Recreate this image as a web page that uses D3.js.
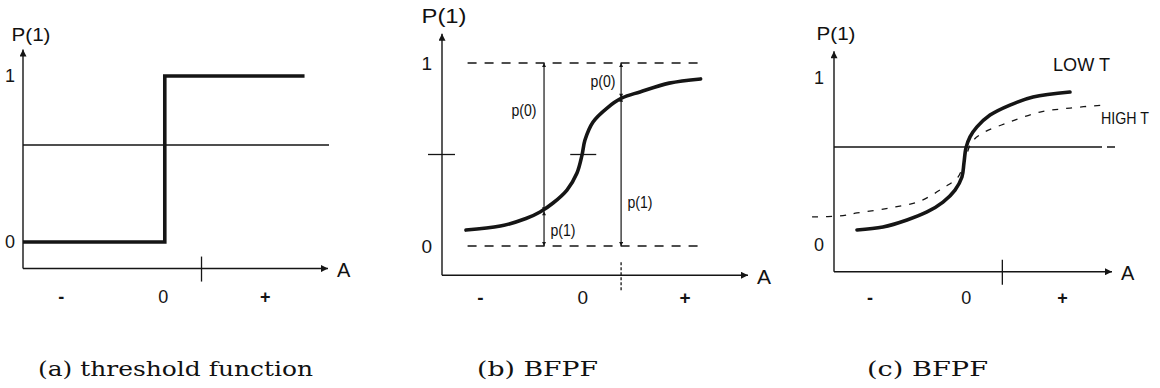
<!DOCTYPE html>
<html>
<head>
<meta charset="utf-8">
<script src="https://cdn.jsdelivr.net/npm/d3@7"></script>
<style>
  html, body { margin: 0; padding: 0; background: #fff; }
  svg { display: block; }
  .lbl { font-family: "Liberation Sans", Arial, sans-serif; fill: #111; }
  .cap { font-family: "DejaVu Serif", serif; fill: #111; }
</style>
</head>
<body>
<svg id="chart" width="1160" height="388"></svg>
<script>
// tick labels
const xTickA = [-1, 0, 1];
const xTickLabels = ['-', '0', '+'];
const yTickP = [0, 1];
const yTickLabels = ['0', '1'];

// (a) threshold function
const stepA = [-1.37, 0.02, 0.02, 1.39];
const stepP = [0, 0, 1, 1];
const thresholdP = 0.584;

// (b) BFPF curve
const bfpfA = [-1.136, -0.80, -0.55, -0.412, -0.285, -0.149, -0.051, -0.002, 0.027, 0.106, 0.243, 0.389, 0.565, 0.85, 1.157];
const bfpfP = [0.087, 0.109, 0.15, 0.186, 0.235, 0.306, 0.399, 0.497, 0.579, 0.678, 0.754, 0.809, 0.842, 0.89, 0.913];
const arrowA = [-0.373, 0.38];
const arrowP = [0.19, 0.81];
const markA = 0.01;   // centre mark on curve
const midP = 0.5;

// (c) BFPF, two temperatures
const lowTA = [-1.131, -0.861, -0.611, -0.403, -0.237, -0.112, -0.040, -0.019, 0.002, 0.044, 0.116, 0.252, 0.459, 0.699, 1.083];
const lowTP = [0.090, 0.108, 0.150, 0.198, 0.257, 0.329, 0.407, 0.491, 0.581, 0.647, 0.707, 0.778, 0.838, 0.886, 0.916];
const highTA = [-1.598, -1.307, -1.131, -0.788, -0.476, -0.237, -0.081, -0.01, 0.064, 0.179, 0.459, 0.771, 1.083, 1.426];
const highTP = [0.168, 0.174, 0.192, 0.222, 0.263, 0.341, 0.407, 0.51, 0.617, 0.671, 0.737, 0.796, 0.820, 0.838];
const levelP = 0.587;

const captions = ['(a) threshold function', '(b) BFPF', '(c) BFPF'];

// shared axis extents (data units)
const aMin = -1.37, pMin = -0.16, pTop = 1.16, tickA = 0.38;

// panel layout (pixels)
const panels = [
  { aMax: 1.62, x: [23, 328], y: [242, 76], fs: 18, lblDy: 29, capX: 38, capW: 275 },
  { aMax: 1.62, x: [442, 748], y: [246, 63], fs: 19, lblDy: 22, capX: 477, capW: 121 },
  { aMax: 1.52, x: [834, 1112], y: [245, 78], fs: 18, lblDy: 27, capX: 867, capW: 121 }
];

const ink = '#151515';
const svg = d3.select('#chart');
const defs = svg.append('defs');

function marker(id, len, wid) {
  defs.append('marker')
    .attr('id', id)
    .attr('viewBox', '0 0 10 10')
    .attr('refX', 10).attr('refY', 5)
    .attr('markerUnits', 'userSpaceOnUse')
    .attr('markerWidth', len).attr('markerHeight', wid)
    .attr('orient', 'auto-start-reverse')
    .append('path')
    .attr('d', 'M0,0 L10,5 L0,10 Z')
    .attr('fill', ink);
}
marker('axisArrow', 10, 7);
marker('smallArrow', 6, 4);

const smooth = (x, y) => d3.line().x(d => x(d[0])).y(d => y(d[1])).curve(d3.curveCatmullRom.alpha(0.5));

panels.forEach((p, i) => {
  const aMax = p.aMax;
  const x = d3.scaleLinear().domain([aMin, aMax]).range(p.x);
  const y = d3.scaleLinear().domain([0, 1]).range(p.y);
  const g = svg.append('g');
  p.xs = x; p.ys = y; p.g = g;

  // axes with arrowheads
  g.append('line')
    .attr('x1', x(aMin)).attr('y1', y(pMin))
    .attr('x2', x(aMax)).attr('y2', y(pMin))
    .attr('stroke', ink).attr('stroke-width', 1.4)
    .attr('marker-end', 'url(#axisArrow)');
  g.append('line')
    .attr('x1', x(aMin)).attr('y1', y(pMin))
    .attr('x2', x(aMin)).attr('y2', y(pTop))
    .attr('stroke', ink).attr('stroke-width', 1.4)
    .attr('marker-end', 'url(#axisArrow)');

  // tick across x axis
  g.append('line')
    .attr('x1', x(tickA)).attr('x2', x(tickA))
    .attr('y1', y(pMin) - (i === 1 ? 13 : 12)).attr('y2', y(pMin) + (i === 1 ? 15 : 13))
    .attr('stroke', ink).attr('stroke-width', 1.3)
    .attr('stroke-dasharray', i === 1 ? '3,2' : null);

  // x tick labels via axis
  const xa = g.append('g')
    .attr('transform', `translate(0,${y(pMin)})`)
    .call(d3.axisBottom(x).tickValues(xTickA).tickSize(0).tickPadding(p.lblDy - 7)
      .tickFormat((d, k) => xTickLabels[k]));
  xa.select('.domain').remove();
  xa.selectAll('text')
    .attr('fill', ink)
    .style('font-size', p.fs + 'px')
    .style('font-weight', (d, k) => k === 1 ? 'normal' : 'bold')
    .style('font-family', '"Liberation Sans", Arial, sans-serif');

  // y tick labels via axis
  const ya = g.append('g')
    .attr('transform', `translate(${x(aMin)},0)`)
    .call(d3.axisLeft(y).tickValues(yTickP).tickSize(0).tickPadding(i === 0 ? 8 : 10)
      .tickFormat((d, k) => yTickLabels[k]));
  ya.select('.domain').remove();
  ya.selectAll('text')
    .attr('fill', ink)
    .style('font-size', p.fs + 'px')
    .style('font-family', '"Liberation Sans", Arial, sans-serif');

  // axis names
  g.append('text').attr('class', 'lbl')
    .attr('x', x(aMin) + (i === 0 ? 8 : 2)).attr('y', y(pTop) - (i === 0 ? 15 : 18))
    .attr('text-anchor', 'middle').attr('dominant-baseline', 'central')
    .attr('textLength', i === 1 ? 45 : 39).attr('lengthAdjust', 'spacingAndGlyphs')
    .style('font-size', (p.fs + 1) + 'px')
    .text('P(1)');
  g.append('text').attr('class', 'lbl')
    .attr('x', x(aMax) + 9).attr('y', y(pMin) + 1)
    .attr('dominant-baseline', 'central')
    .style('font-size', (p.fs + 2) + 'px')
    .text('A');

  // caption
  svg.append('text').attr('class', 'cap')
    .attr('x', p.capX).attr('y', 376)
    .attr('textLength', p.capW).attr('lengthAdjust', 'spacingAndGlyphs')
    .style('font-size', '21px')
    .text(captions[i]);
});

// ---- (a) ----
{
  const { xs: x, ys: y, g, aMax } = panels[0];
  g.append('line')
    .attr('x1', x(aMin)).attr('x2', x(aMax) + 1)
    .attr('y1', y(thresholdP)).attr('y2', y(thresholdP))
    .attr('stroke', ink).attr('stroke-width', 1.4);
  g.append('path')
    .datum(stepA.map((a, k) => [a, stepP[k]]))
    .attr('fill', 'none').attr('stroke', ink).attr('stroke-width', 3.6)
    .attr('d', d3.line().x(d => x(d[0])).y(d => y(d[1])));
}

// ---- (b) ----
{
  const { xs: x, ys: y, g } = panels[1];
  [0, 1].forEach(v => {
    g.append('line')
      .attr('x1', x(-1.12)).attr('x2', x(1.15))
      .attr('y1', y(v)).attr('y2', y(v))
      .attr('stroke', ink).attr('stroke-width', 1.3)
      .attr('stroke-dasharray', '9,8');
  });
  // mid marks
  g.append('line')
    .attr('x1', x(aMin) - 14).attr('x2', x(aMin) + 13)
    .attr('y1', y(midP)).attr('y2', y(midP))
    .attr('stroke', ink).attr('stroke-width', 1.3);
  g.append('line')
    .attr('x1', x(markA) - 13).attr('x2', x(markA) + 13)
    .attr('y1', y(midP)).attr('y2', y(midP))
    .attr('stroke', ink).attr('stroke-width', 1.3);

  // arrows p(0) and p(1)
  arrowA.forEach((a, k) => {
    [[1, arrowP[k]], [arrowP[k], 0]].forEach(seg => {
      g.append('line')
        .attr('x1', x(a)).attr('x2', x(a))
        .attr('y1', y(seg[0])).attr('y2', y(seg[1]))
        .attr('stroke', ink).attr('stroke-width', 1.2)
        .attr('marker-start', 'url(#smallArrow)')
        .attr('marker-end', 'url(#smallArrow)');
    });
  });

  g.append('path')
    .datum(bfpfA.map((a, k) => [a, bfpfP[k]]))
    .attr('fill', 'none').attr('stroke', ink).attr('stroke-width', 3.6)
    .attr('stroke-linecap', 'round')
    .attr('d', smooth(x, y));

  const pLabels = [
    { t: 'p(0)', x: 524, y: 110 },
    { t: 'p(1)', x: 563, y: 230 },
    { t: 'p(0)', x: 603, y: 81 },
    { t: 'p(1)', x: 640, y: 202 }
  ];
  g.selectAll('.plbl').data(pLabels).join('text')
    .attr('class', 'lbl plbl')
    .attr('x', d => d.x).attr('y', d => d.y)
    .attr('text-anchor', 'middle').attr('dominant-baseline', 'central')
    .attr('textLength', 25).attr('lengthAdjust', 'spacingAndGlyphs')
    .style('font-size', '16px')
    .text(d => d.t);
}

// ---- (c) ----
{
  const { xs: x, ys: y, g, aMax } = panels[2];
  g.append('line')
    .attr('x1', x(aMin)).attr('x2', x(aMax) + 3)
    .attr('y1', y(levelP)).attr('y2', y(levelP))
    .attr('stroke', ink).attr('stroke-width', 1.4)
    .attr('stroke-dasharray', '268,5,8');

  g.append('path')
    .datum(highTA.map((a, k) => [a, highTP[k]]))
    .attr('fill', 'none').attr('stroke', ink).attr('stroke-width', 1.3)
    .attr('stroke-dasharray', '6,8')
    .attr('d', smooth(x, y));

  g.append('path')
    .datum(lowTA.map((a, k) => [a, lowTP[k]]))
    .attr('fill', 'none').attr('stroke', ink).attr('stroke-width', 3.6)
    .attr('stroke-linecap', 'round')
    .attr('d', smooth(x, y));

  g.append('text').attr('class', 'lbl')
    .attr('x', 1053).attr('y', 65).attr('dominant-baseline', 'central')
    .attr('textLength', 57).attr('lengthAdjust', 'spacingAndGlyphs')
    .style('font-size', '18px')
    .text('LOW T');
  g.append('text').attr('class', 'lbl')
    .attr('x', 1101).attr('y', 118).attr('dominant-baseline', 'central')
    .attr('textLength', 48).attr('lengthAdjust', 'spacingAndGlyphs')
    .style('font-size', '17px')
    .text('HIGH T');
}
</script>
</body>
</html>
